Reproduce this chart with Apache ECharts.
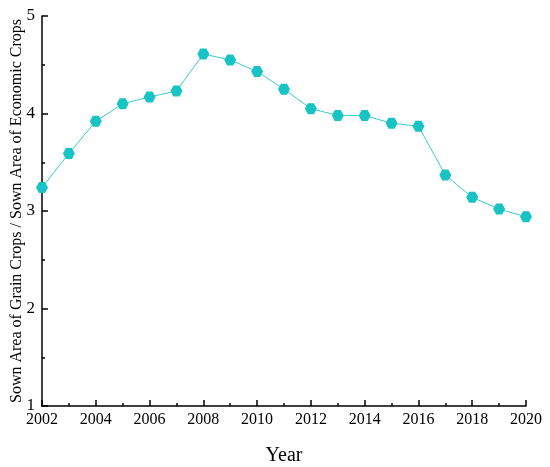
<!DOCTYPE html>
<html><head><meta charset="utf-8">
<script src="https://cdn.jsdelivr.net/npm/echarts@6/dist/echarts.min.js"></script>
<style>html,body{margin:0;padding:0;background:#fff}#c{width:550px;height:467px}</style>
</head><body><div id="c"></div>
<script>
const years = [2002,2003,2004,2005,2006,2007,2008,2009,2010,2011,2012,2013,2014,2015,2016,2017,2018,2019,2020];
const ratio = [3.24,3.59,3.92,4.10,4.17,4.23,4.61,4.55,4.43,4.25,4.05,3.98,3.98,3.90,3.87,3.37,3.14,3.02,2.94];
const xLabel = 'Year';
const yLabel = 'Sown Area of Grain Crops / Sown Area of Economic Crops';

const font = 'Liberation Serif, Times New Roman, serif';
const chart = echarts.init(document.getElementById('c'));
chart.setOption({
  animation: false,
  grid: {left: 42, right: 24, top: 16, bottom: 61, containLabel: false, outerBoundsMode: 'none'},
  xAxis: {
    type: 'value', min: 2002, max: 2020, interval: 2,
    name: xLabel, nameLocation: 'middle', nameGap: 40, nameMoveOverlap: false,
    nameTextStyle: {fontFamily: font, fontSize: 20, color: '#000'},
    axisLine: {lineStyle: {color: '#000', width: 1.5}},
    axisTick: {inside: true, length: 6, lineStyle: {color: '#000', width: 1.5}},
    minorTick: {show: true, splitNumber: 2, length: 3, lineStyle: {color: '#000', width: 1.5}},
    axisLabel: {fontFamily: font, fontSize: 16, color: '#000', margin: 6, formatter: v => String(v), hideOverlap: false},
    splitLine: {show: false}
  },
  yAxis: {
    type: 'value', min: 1, max: 5, interval: 1,
    name: yLabel, nameLocation: 'middle', nameGap: 17, nameMoveOverlap: false,
    nameTextStyle: {fontFamily: font, fontSize: 16, color: '#000'},
    axisLine: {show: true, lineStyle: {color: '#000', width: 1.5}},
    axisTick: {show: true, inside: true, length: 6, lineStyle: {color: '#000', width: 1.5}},
    minorTick: {show: true, splitNumber: 2, length: 3, lineStyle: {color: '#000', width: 1.5}},
    axisLabel: {fontFamily: font, fontSize: 17, color: '#000', margin: 7, formatter: v => String(v)},
    splitLine: {show: false}
  },
  series: [{
    type: 'line',
    data: years.map((y, i) => [y, ratio[i]]),
    symbol: 'path://M-1,0 L-0.5,-0.866 L0.5,-0.866 L1,0 L0.5,0.866 L-0.5,0.866 Z',
    symbolSize: [12, 11],
    itemStyle: {color: '#17c3c3'},
    lineStyle: {color: '#3ccaca', width: 1},
    clip: false
  }]
});
</script></body></html>
